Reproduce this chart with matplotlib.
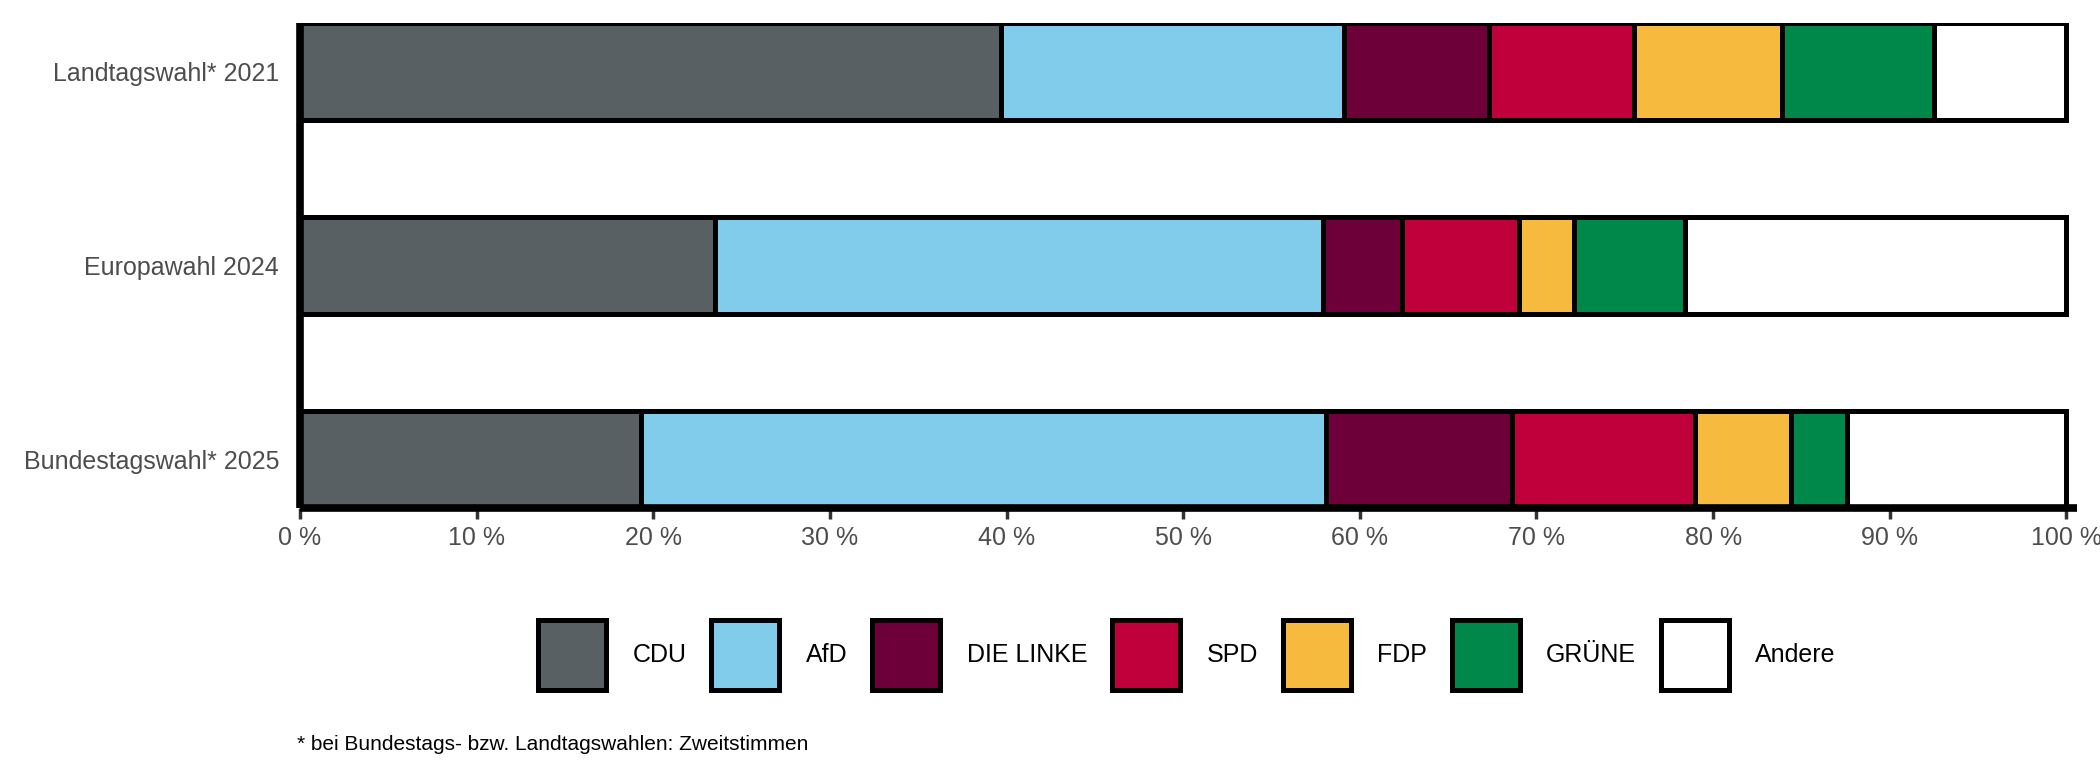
import matplotlib
matplotlib.use("Agg")
import matplotlib.pyplot as plt
import numpy as np

plt.rcParams['font.family'] = ['Liberation Sans', 'DejaVu Sans']

categories = ["Landtagswahl* 2021", "Europawahl 2024", "Bundestagswahl* 2025"]
parties = ["CDU", "AfD", "DIE LINKE", "SPD", "FDP", "GRÜNE", "Andere"]
cdu = [39.7, 23.5, 19.3]
afd = [19.4, 34.4, 38.8]
linke = [8.2, 4.5, 10.5]
spd = [8.2, 6.6, 10.4]
fdp = [8.4, 3.1, 5.4]
gruene = [8.6, 6.3, 3.2]
andere = [7.5, 21.6, 12.4]
series = [cdu, afd, linke, spd, fdp, gruene, andere]
colors = ["#586063", "#82CCEB", "#6D0038", "#C0003B", "#F6BB3E", "#00874A", "#FFFFFF"]
xticks = [0, 10, 20, 30, 40, 50, 60, 70, 80, 90, 100]
footnote = "* bei Bundestags- bzw. Landtagswahlen: Zweitstimmen"

fig = plt.figure(figsize=(21, 7.8), dpi=100)
ax = fig.add_axes([300/2100, 1 - 508/780, 1777/2100, 485/780])

y = np.arange(len(categories))
left = np.zeros(len(categories))
for name, vals, col in zip(parties, series, colors):
    ax.barh(y, vals, left=left, height=0.5, color=col, edgecolor="black",
            linewidth=3.6, label=name, zorder=2)
    left += np.array(vals)

ax.set_ylim(2.25, -0.25)
ax.set_xlim(0, 100.6)
ax.set_yticks(y)
ax.set_yticklabels(categories)
ax.set_xticks(xticks)
ax.set_xticklabels([f"{v} %" for v in xticks])

for s in ["top", "right"]:
    ax.spines[s].set_visible(False)
for s in ["left", "bottom"]:
    ax.spines[s].set_linewidth(5.5)
    ax.spines[s].set_color("black")
    ax.spines[s].set_zorder(3)
    ax.spines[s].set_capstyle("butt")

ax.tick_params(axis="y", length=0, pad=15, labelsize=18, labelcolor="#4d4d4d")
ax.tick_params(axis="x", length=8, width=2.5, color="#333333", pad=5,
               labelsize=18, labelcolor="#4d4d4d")

handles, labels = ax.get_legend_handles_labels()
fig.legend(handles, labels, loc="center", bbox_to_anchor=(1187/2100, 1 - 655/780),
           ncol=7, frameon=False, fontsize=18, handlelength=2.72, handleheight=3.9,
           handletextpad=1.05, columnspacing=1.0, labelcolor="black")

fig.text(297/2100, 1 - 745/780, footnote, fontsize=15, color="black",
         ha="left", va="center")

fig.savefig("out.png", dpi=100, facecolor="white")
